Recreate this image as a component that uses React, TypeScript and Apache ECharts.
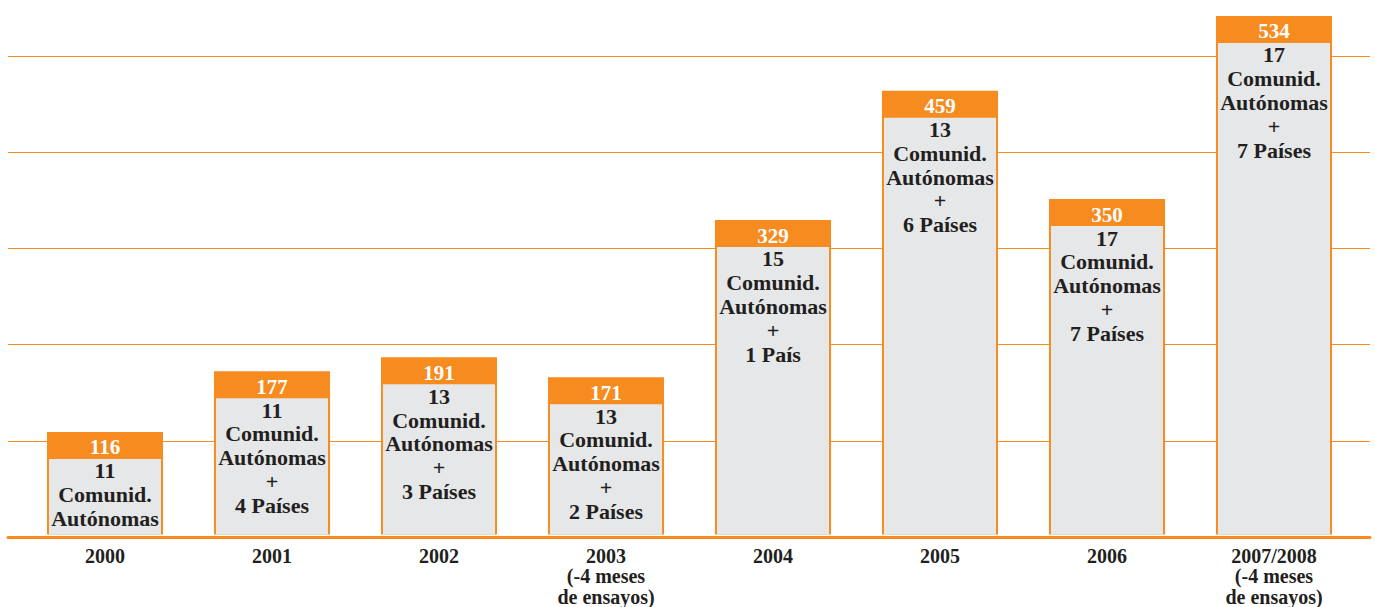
import React, { useEffect, useRef } from "react";
import * as echarts from "echarts";

const categories = [
  "2000",
  "2001",
  "2002",
  "2003\n(-4 meses\nde ensayos)",
  "2004",
  "2005",
  "2006",
  "2007/2008\n(-4 meses\nde ensayos)",
];
const totals = [116, 177, 191, 171, 329, 459, 350, 534];
const comunidades = [11, 11, 13, 13, 15, 13, 17, 17];
const paises = [0, 4, 3, 2, 1, 6, 7, 7];

const ORANGE = "#F68B1F";
const GRAY = "#E6E7E8";
const DARK = "#231F20";
const FONT = "Liberation Serif";
const Y_MIN = 13;
const Y_MAX = 535;

function bodyText(i: number): string {
  let t = `${comunidades[i]}\nComunid.\nAutónomas`;
  const p = paises[i];
  if (p > 0) t += `\n+\n${p} ${p === 1 ? "País" : "Países"}`;
  return t;
}

export default function App() {
  const ref = useRef<HTMLDivElement>(null);
  useEffect(() => {
    document.body.style.margin = "0";
    const chart = echarts.init(ref.current!, null, { renderer: "svg" });
    const HEADER = 27;
    chart.setOption({
      animation: false,
      backgroundColor: "#ffffff",
      textStyle: { fontFamily: FONT },
      grid: [
        { left: 21.5, right: 17.5, top: 15, bottom: 70 },
        { left: 8, right: 5, top: 56, bottom: 70 },
      ],
      xAxis: [
        {
          type: "category",
          gridIndex: 0,
          data: categories,
          axisLine: { show: false },
          axisTick: { show: false },
          axisLabel: {
            margin: 11,
            color: DARK,
            fontFamily: FONT,
            fontWeight: "bold",
            fontSize: 20,
            lineHeight: 20.5,
            interval: 0,
          },
        },
        {
          type: "value",
          gridIndex: 1,
          min: 0,
          max: 1,
          z: 10,
          axisLine: { show: true, onZero: false, lineStyle: { color: ORANGE, width: 3 } },
          axisTick: { show: false },
          axisLabel: { show: false },
          splitLine: { show: false },
        },
      ],
      yAxis: [
        { type: "value", gridIndex: 0, min: Y_MIN, max: Y_MAX, show: false },
        {
          type: "value",
          gridIndex: 1,
          min: 0,
          max: 5,
          interval: 1,
          axisLine: { show: false },
          axisTick: { show: false },
          axisLabel: { show: false },
          splitLine: { show: true, lineStyle: { color: ORANGE, width: 1 } },
        },
      ],
      series: [
        { type: "line", xAxisIndex: 1, yAxisIndex: 1, data: [] },
        {
          type: "custom",
          xAxisIndex: 0,
          yAxisIndex: 0,
          z: 5,
          encode: { x: 0, y: 1 },
          data: totals.map((v, i) => [i, v]),
          renderItem: (params: any, api: any) => {
            const idx = params.dataIndex;
            const xi = api.value(0);
            const v = api.value(1);
            const top = api.coord([xi, v]);
            const bot = api.coord([xi, Y_MIN]);
            const bw = api.size([1, 0])[0] * 0.695;
            const cx = top[0];
            const x0 = cx - bw / 2;
            const y0 = top[1];
            const y1 = bot[1];
            return {
              type: "group",
              children: [
                {
                  type: "rect",
                  shape: { x: x0, y: y0, width: bw, height: y1 - y0 },
                  style: { fill: ORANGE },
                },
                {
                  type: "rect",
                  shape: { x: x0 + 2, y: y0 + HEADER, width: bw - 4, height: y1 - y0 - HEADER },
                  style: { fill: GRAY },
                },
                {
                  type: "text",
                  style: {
                    text: String(totals[idx]),
                    x: cx,
                    y: y0 + HEADER / 2 + 2,
                    align: "center",
                    verticalAlign: "middle",
                    fill: "#ffffff",
                    fontFamily: FONT,
                    fontWeight: "bold",
                    fontSize: 21,
                  },
                },
                {
                  type: "text",
                  style: {
                    text: bodyText(idx),
                    x: cx,
                    y: y0 + HEADER,
                    align: "center",
                    verticalAlign: "top",
                    fill: DARK,
                    fontFamily: FONT,
                    fontWeight: "bold",
                    fontSize: 22,
                    lineHeight: 23.8,
                  },
                },
              ],
            };
          },
        },
      ],
    });
    return () => chart.dispose();
  }, []);
  return (
    <div
      ref={ref}
      style={{ position: "absolute", left: 0, top: 0, width: 1375, height: 607 }}
    />
  );
}
